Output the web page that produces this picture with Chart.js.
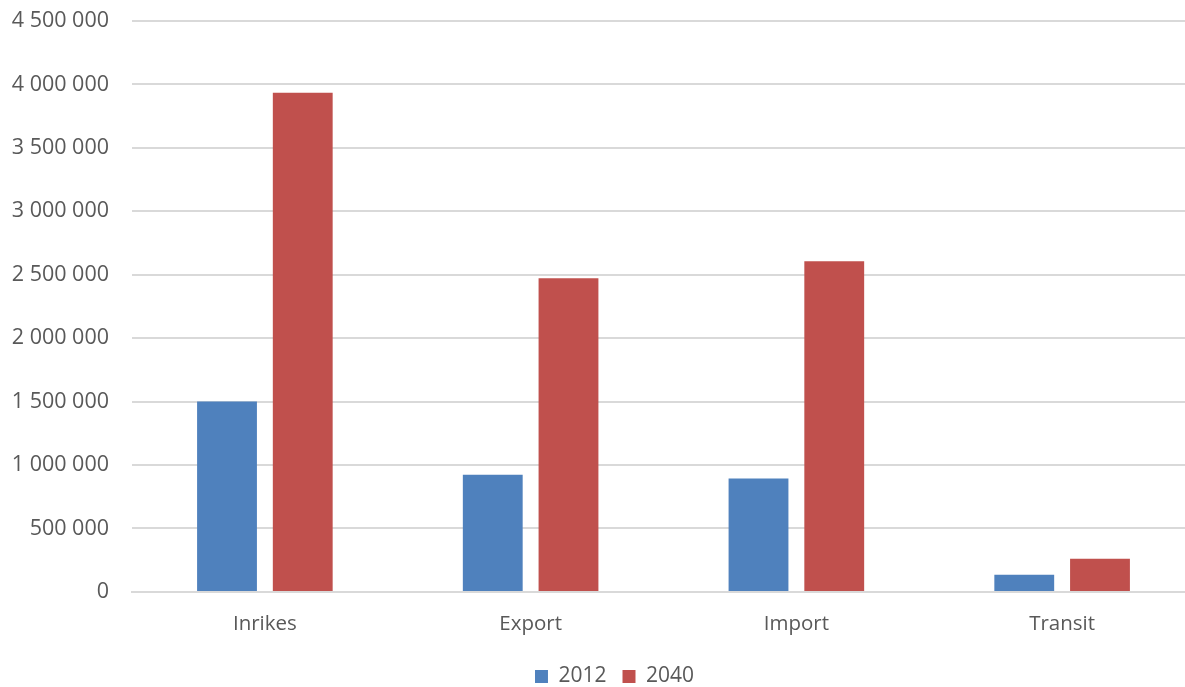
<!DOCTYPE html>
<html>
<head>
<meta charset="utf-8">
<script src="https://cdn.jsdelivr.net/npm/chart.js@4.4.0/dist/chart.umd.min.js"></script>
<style>
  html, body { margin: 0; padding: 0; background: #fff; overflow: hidden; }
  #wrap { width: 1200px; height: 687px; position: relative; }
</style>
</head>
<body>
<div id="wrap"><canvas id="c"></canvas></div>
<script>
const categories = ["Inrikes", "Export", "Import", "Transit"];
const series2012 = [1500000, 924000, 893000, 136000];
const series2040 = [3934000, 2472000, 2606000, 262000];
const seriesLabels = ["2012", "2040"];
const yMax = 4500000;
const yStep = 500000;

function fmt(v) {
  return String(Math.round(v)).replace(/\B(?=(\d{3})+(?!\d))/g, " ");
}

const FONT = "'Open Sans', 'Noto Sans', sans-serif";
const TXT = "#595959";

const legendShift = {
  id: "legendShift",
  afterLayout(chart) {
    const lg = chart.legend;
    if (!lg) return;
    const dx = 17, dy = -5.5;
    lg.left += dx; lg.right += dx;
    lg.top += dy; lg.bottom += dy;
    if (lg.legendHitBoxes) lg.legendHitBoxes.forEach(h => { h.left += dx; h.top += dy; });
  }
};

new Chart(document.getElementById("c"), {
  type: "bar",
  data: {
    labels: categories,
    datasets: [
      { label: seriesLabels[0], data: series2012, backgroundColor: "#4F81BD", categoryPercentage: 0.57, barPercentage: 0.79 },
      { label: seriesLabels[1], data: series2040, backgroundColor: "#C0504D", categoryPercentage: 0.57, barPercentage: 0.79 }
    ]
  },
  plugins: [legendShift],
  options: {
    responsive: true,
    maintainAspectRatio: false,
    animation: false,
    layout: { padding: { left: 0, right: 5, top: 21, bottom: -15.5 } },
    plugins: {
      legend: {
        position: "bottom",
        labels: {
          boxWidth: 13, boxHeight: 13, padding: 16,
          color: TXT,
          font: { family: FONT, size: 21 }
        }
      },
      tooltip: { enabled: false }
    },
    scales: {
      x: {
        grid: { display: false, drawTicks: false },
        border: { display: true, color: "#d9d9d9", width: 2 },
        ticks: { color: TXT, font: { family: FONT, size: 20.5 }, padding: 19.5 }
      },
      y: {
        min: 0, max: yMax,
        afterFit: (s) => { s.width = 132; s.paddingTop = 0; s.paddingBottom = 0; },
        grid: { color: "#d9d9d9", lineWidth: 2, drawTicks: false },
        border: { display: false },
        ticks: {
          stepSize: yStep,
          color: TXT,
          font: { family: FONT, size: 21.5 },
          padding: 23,
          callback: (v) => fmt(v)
        }
      }
    }
  }
});
</script>
</body>
</html>
